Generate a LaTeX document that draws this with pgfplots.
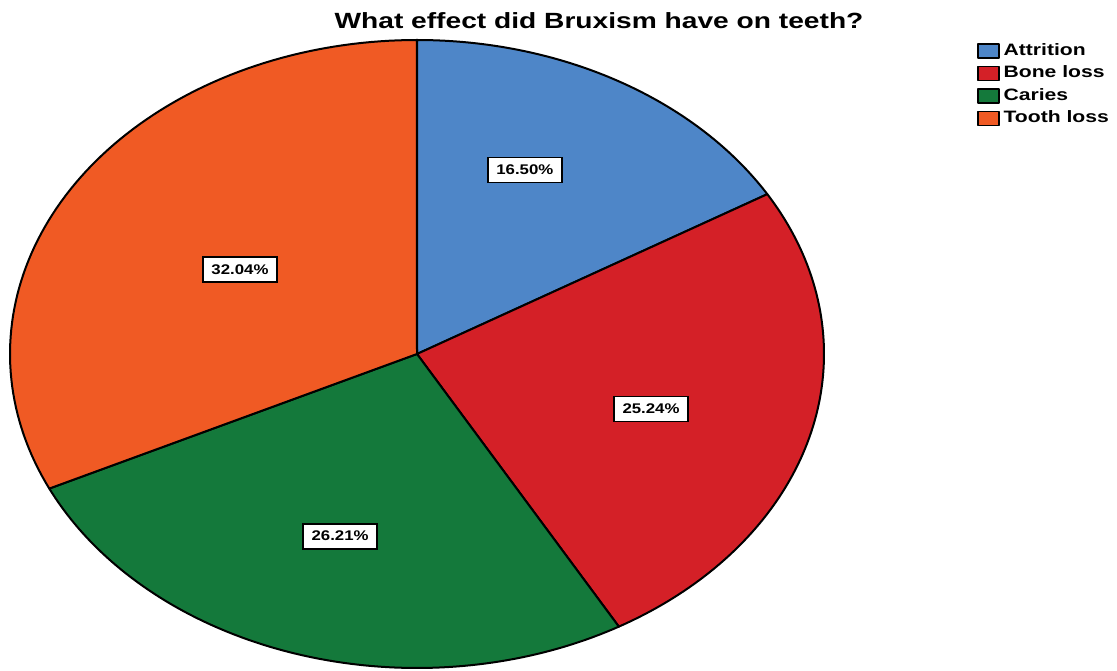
\documentclass[border=0pt]{standalone}
\usepackage{fontspec}
\setmainfont{Liberation Sans}
\newfontfamily\widefont[FakeStretch=1.28]{Liberation Sans}
\newfontfamily\labelfont[FakeStretch=1.2]{Liberation Sans}
\usepackage{pgfplots}
\usepackage{pgfplotstable}
\pgfplotsset{compat=1.18}

\definecolor{cAttr}{RGB}{78,134,200}
\definecolor{cBone}{RGB}{212,32,39}
\definecolor{cCar}{RGB}{20,121,59}
\definecolor{cTooth}{RGB}{240,90,36}

% share of answers (percent) and label placement inside each slice
\pgfplotstableread{
label     value  lx      ly
Attrition 16.50  0.265   0.586
Boneloss  25.24  0.575  -0.175
Caries    26.21 -0.189  -0.580
Toothloss 32.04 -0.435   0.268
}\piedata

\begin{document}
\begin{tikzpicture}
\pgfplotstablegetelem{0}{value}\of\piedata \let\vA\pgfplotsretval
\pgfplotstablegetelem{1}{value}\of\piedata \let\vB\pgfplotsretval
\pgfplotstablegetelem{2}{value}\of\piedata \let\vC\pgfplotsretval
\pgfplotstablegetelem{3}{value}\of\piedata \let\vD\pgfplotsretval
% slices run clockwise from twelve o'clock
\pgfmathsetmacro\aA{90}
\pgfmathsetmacro\aB{\aA-3.6*\vA}
\pgfmathsetmacro\aC{\aB-3.6*\vB}
\pgfmathsetmacro\aD{\aC-3.6*\vC}
\pgfmathsetmacro\aE{\aD-3.6*\vD}

\begin{axis}[
  at={(10pt,3pt)}, anchor=south west,
  scale only axis, width=814pt, height=628pt,
  xmin=-1, xmax=1, ymin=-1, ymax=1,
  hide axis, clip=false,
  legend style={at={(1.188,0.995)}, anchor=north west, draw=none, fill=none,
    inner sep=0pt, row sep=7pt, column sep=4pt,
    font=\widefont\bfseries\fontsize{16.5}{18}\selectfont,
    nodes={inner sep=0pt, text height=12pt, text depth=3pt}},
  legend cell align=left,
  legend image code/.code={\draw[#1, draw=black, line width=1.4pt] (0pt,-7pt) rectangle (21pt,7pt);},
  slice/.style={draw=black, line width=2pt, line join=round, samples=90, variable=\t},
]
\addplot[slice, fill=cAttr, domain=\aB:\aA] ({cos(\t)},{sin(\t)}) -- (axis cs:0,0) -- cycle;
\addlegendentry{Attrition}
\addplot[slice, fill=cBone, domain=\aC:\aB] ({cos(\t)},{sin(\t)}) -- (axis cs:0,0) -- cycle;
\addlegendentry{Bone loss}
\addplot[slice, fill=cCar, domain=\aD:\aC] ({cos(\t)},{sin(\t)}) -- (axis cs:0,0) -- cycle;
\addlegendentry{Caries}
\addplot[slice, fill=cTooth, domain=\aE:\aD] ({cos(\t)},{sin(\t)}) -- (axis cs:0,0) -- cycle;
\addlegendentry{Tooth loss}

% percentage labels
\addplot[forget plot, only marks, mark=none, draw=none,
  point meta=explicit,
  nodes near coords={\pgfmathprintnumber[fixed, fixed zerofill, precision=2, assume math mode=true]{\pgfplotspointmeta}\%},
  nodes near coords align=center,
  every node near coord/.append style={anchor=center, fill=white, draw=black, line width=1.8pt,
    minimum width=74pt, minimum height=25pt, inner sep=0pt,
    font=\labelfont\bfseries\fontsize{14}{16}\selectfont, text=black}]
  table[x=lx, y=ly, meta=value] {\piedata};
\end{axis}

\node[anchor=base, font=\widefont\bfseries\fontsize{22}{26}\selectfont] at (599pt,642pt)
  {What effect did Bruxism have on teeth?};

\pgfresetboundingbox
\path (0pt,0pt) rectangle (1117pt,671pt);
\end{tikzpicture}
\end{document}
